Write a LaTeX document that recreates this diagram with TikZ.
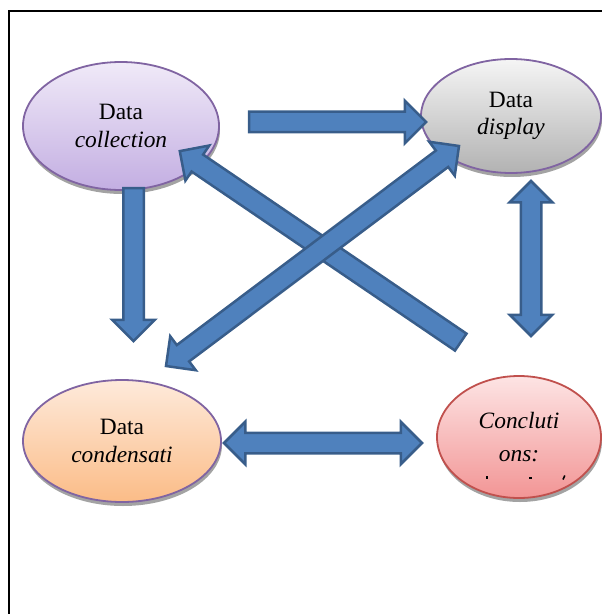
\documentclass[tikz,border=0pt]{standalone}
\usepackage{fontspec}
\setmainfont{Liberation Serif}
\usetikzlibrary{shapes.geometric,shapes.arrows,shadows,calc}

\definecolor{ArrowFill}{HTML}{4F81BD}
\definecolor{ArrowLine}{HTML}{385D8A}
\definecolor{StageLine}{HTML}{8064A2}
\definecolor{StageRed}{HTML}{C0504D}
\definecolor{CollTop}{HTML}{F0EAF8}
\definecolor{CollBot}{HTML}{C3AEE2}
\definecolor{DispTop}{HTML}{F5F5F5}
\definecolor{DispBot}{HTML}{B2B2B2}
\definecolor{CondTop}{HTML}{FEEADB}
\definecolor{CondBot}{HTML}{FBBC87}
\definecolor{ConcTop}{HTML}{FDE4E4}
\definecolor{ConcBot}{HTML}{F29595}

\tikzstyle{Stage} = [ellipse, draw=StageLine, line width=1.8bp, inner sep=0pt, align=center,
  font=\fontsize{23.5}{27.5}\selectfont,
  drop shadow={shadow xshift=1bp, shadow yshift=-4bp, fill=black!45, opacity=0.8}]
\tikzstyle{OneWay} = [single arrow, draw=ArrowLine, fill=ArrowFill, line width=2.5bp,
  inner xsep=0pt, inner ysep=9bp, minimum width=40bp, single arrow head extend=11bp]
\tikzstyle{TwoWay} = [double arrow, draw=ArrowLine, fill=ArrowFill, line width=2.5bp,
  inner xsep=0pt, inner ysep=9bp, minimum width=40bp, double arrow head extend=11bp]

% block arrow between two named points
\newcommand{\blockconn}[3]{%
  \path let \p1=(#2), \p2=(#3), \n1={atan2(\y2-\y1,\x2-\x1)}, \n2={veclen(\x2-\x1,\y2-\y1)} in
    node[#1, rotate=\n1, minimum height=\n2] at ($(#2)!0.5!(#3)$) {};}

\begin{document}
\begin{tikzpicture}[x=1bp,y=-1bp]
\clip (0,0) rectangle (602,614);

\draw [line width=2.5bp] (9,640) |- (640,11);

\node[Stage, top color=CollTop, bottom color=CollBot, minimum width=196bp, minimum height=128bp] (coll) at (121,126) {Data\\\textit{collection}};
\node[Stage, top color=DispTop, bottom color=DispBot, minimum width=180bp, minimum height=114bp] (disp) at (511,116) {Data\\\textit{display}};
\node[Stage, top color=CondTop, bottom color=CondBot, minimum width=198bp, minimum height=122bp] (cond) at (122,441) {Data\\\textit{condensati}};
\node[Stage, draw=StageRed, top color=ConcTop, bottom color=ConcBot, minimum width=164bp, minimum height=122bp] (concl) at (519,437) {\textit{Concluti}\\[5bp]\textit{ons:}};

% cut-off marks under the last word
\fill (486,475.5) rectangle +(2.2,3.8);
\fill (529.3,476.5) rectangle +(2.2,2.6);
\draw [line width=1.6bp] (563,479.5) -- (564.8,475.5);

% arrow ends
\coordinate (a1) at (244,122);   \coordinate (a2) at (421,122);
\coordinate (b1) at (133.5,183); \coordinate (b2) at (133.5,336);
\coordinate (c1) at (531,181);   \coordinate (c2) at (531,336);
\coordinate (d1) at (224,443);   \coordinate (d2) at (422,443);
\coordinate (e1) at (465,345);   \coordinate (e2) at (184,154);
\coordinate (f1) at (166,366);   \coordinate (f2) at (459,146);

\blockconn{OneWay}{a1}{a2}
\blockconn{OneWay}{b1}{b2}
\blockconn{TwoWay}{c1}{c2}
\blockconn{TwoWay}{d1}{d2}
\blockconn{OneWay}{e1}{e2}
\blockconn{TwoWay}{f1}{f2}

\end{tikzpicture}
\end{document}
